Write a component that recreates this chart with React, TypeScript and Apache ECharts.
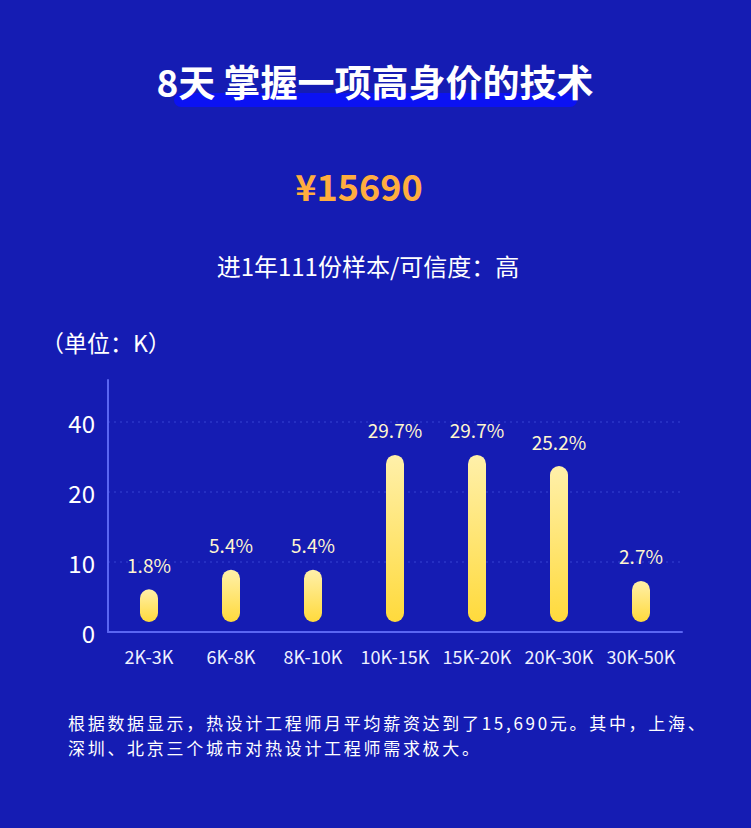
import React, { useEffect, useRef } from "react";
import * as echarts from "echarts";

const categories = ["2K-3K", "6K-8K", "8K-10K", "10K-15K", "15K-20K", "20K-30K", "30K-50K"];
const shares = [1.8, 5.4, 5.4, 29.7, 29.7, 25.2, 2.7];
// bar heights, in y-axis steps (one step per tick label)
const barHeights = [0.61, 0.89, 0.89, 2.53, 2.53, 2.37, 0.73];
const yTickLabels = ["0", "10", "20", "40"];

const titleText = "8天 掌握一项高身价的技术";
const priceText = "¥15690";
const subText = "进1年111份样本/可信度：高";
const unitText = "（单位：K）";
const noteLines = [
  "根据数据显示，热设计工程师月平均薪资达到了15,690元。其中，上海、",
  "深圳、北京三个城市对热设计工程师需求极大。",
];

const FONT = '"Noto Sans CJK SC", "Noto Sans", sans-serif';
const BG = "#151cb3";
const AXIS = "#5b66f2";

export default function App() {
  const ref = useRef<HTMLDivElement>(null);

  useEffect(() => {
    document.body.style.margin = "0";
    document.body.style.background = BG;
    if (!ref.current) return;
    const el = ref.current;
    const chart = echarts.init(el, undefined, { renderer: "svg" });
    const barWidth = 18;
    const gap = 10;
    const option: any = {
      animation: false,
      backgroundColor: BG,
      textStyle: { fontFamily: FONT },
      grid: { left: 108, right: 69, top: 380, bottom: 196 },
      xAxis: {
        type: "category",
        data: categories,
        axisLine: { lineStyle: { color: AXIS, width: 2 } },
        axisTick: { show: false },
        axisLabel: { color: "#eef0ff", fontSize: 18, margin: 15, interval: 0, fontFamily: FONT },
        splitLine: { show: false },
      },
      yAxis: {
        type: "value",
        min: 0,
        max: 3.6,
        interval: 1,
        axisLine: { show: true, lineStyle: { color: AXIS, width: 2 } },
        axisTick: { show: false },
        axisLabel: {
          color: "#ffffff",
          fontSize: 24,
          margin: 13,
          padding: [0, 0, 7, 0],
          fontFamily: FONT,
          showMaxLabel: false,
          formatter: (v: number) => (Number.isInteger(v) && yTickLabels[v] !== undefined ? yTickLabels[v] : ""),
        },
        splitLine: {
          show: true,
          showMinLine: false,
          showMaxLine: false,
          lineStyle: { color: "#2b36c8", type: [2, 4], width: 1.5 },
        },
      },
      series: [
        {
          type: "custom",
          data: barHeights.map((h, i) => [i, h]),
          encode: { x: 0, y: 1 },
          renderItem: (params: any, api: any) => {
            const i = api.value(0);
            const v = api.value(1);
            const top = api.coord([i, v]);
            const base = api.coord([i, 0]);
            const h = base[1] - gap - top[1];
            return {
              type: "group",
              children: [
                {
                  type: "rect",
                  shape: { x: top[0] - barWidth / 2, y: top[1], width: barWidth, height: h, r: barWidth / 2 },
                  style: {
                    fill: new echarts.graphic.LinearGradient(0, 0, 0, 1, [
                      { offset: 0, color: "#fff0aa" },
                      { offset: 1, color: "#ffda3c" },
                    ]),
                  },
                },
                {
                  type: "text",
                  style: {
                    text: shares[i] + "%",
                    x: top[0],
                    y: top[1] - 25,
                    align: "center",
                    verticalAlign: "middle",
                    fill: "#fff6cf",
                    font: `19px ${FONT}`,
                  },
                },
              ],
            };
          },
        },
      ],
      graphic: [
        {
          type: "rect",
          shape: { x: 174, y: 93, width: 403, height: 14, r: 7 },
          style: { fill: "#0b12f3" },
          z: 1,
        },
        {
          type: "text",
          x: 375,
          y: 81,
          z: 2,
          style: {
            text: titleText,
            align: "center",
            verticalAlign: "middle",
            fill: "#ffffff",
            font: `bold 37px ${FONT}`,
          },
        },
        {
          type: "text",
          x: 359,
          y: 185,
          style: {
            text: priceText,
            align: "center",
            verticalAlign: "middle",
            fill: "#ffad3f",
            font: `bold 36px ${FONT}`,
          },
        },
        {
          type: "text",
          x: 368,
          y: 265,
          style: {
            text: subText,
            align: "center",
            verticalAlign: "middle",
            fill: "#ffffff",
            font: `24px ${FONT}`,
          },
        },
        {
          type: "text",
          x: 41,
          y: 342,
          style: {
            text: unitText,
            align: "left",
            verticalAlign: "middle",
            fill: "#ffffff",
            font: `23px ${FONT}`,
          },
        },
        ...noteLines.map((t, k) => ({
          type: "text",
          x: 68,
          y: 722 + k * 25,
          style: {
            text: t,
            align: "left",
            verticalAlign: "middle",
            fill: "#ffffff",
            font: `17px ${FONT}`,
          },
        })),
      ],
    };
    chart.setOption(option);

    // the note text in the reference is set with wide letter spacing
    const spaceNotes = () => {
      el.querySelectorAll("text").forEach((t) => {
        if (noteLines.indexOf(t.textContent || "") >= 0) {
          t.setAttribute("letter-spacing", "2.7");
        }
      });
    };
    spaceNotes();
    chart.on("finished", spaceNotes);
    const raf = requestAnimationFrame(spaceNotes);

    return () => {
      cancelAnimationFrame(raf);
      chart.dispose();
    };
  }, []);

  return <div ref={ref} style={{ position: "fixed", left: 0, top: 0, width: 751, height: 828 }} />;
}
